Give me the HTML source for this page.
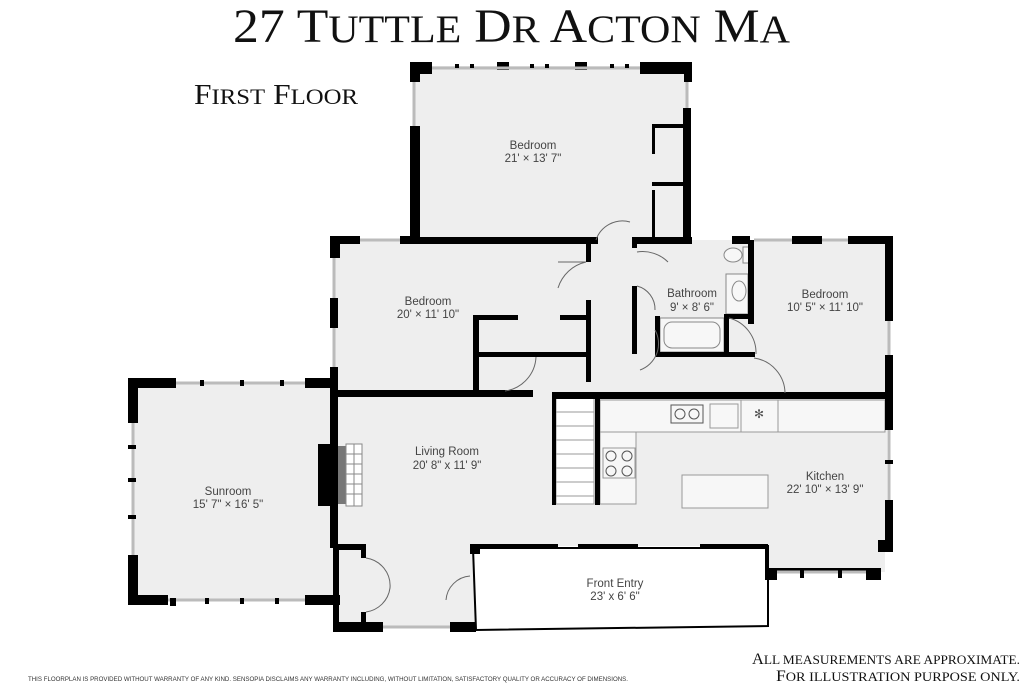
<!DOCTYPE html>
<html><head><meta charset="utf-8"><style>
html,body{margin:0;padding:0;background:#fff;width:1024px;height:683px;overflow:hidden}
svg{display:block}
.t{font-family:"Liberation Sans",sans-serif;font-size:11.5px;fill:#444;text-anchor:middle}
</style></head><body>
<svg width="1024" height="683" viewBox="0 0 1024 683" xmlns="http://www.w3.org/2000/svg">
<rect width="1024" height="683" fill="#fff"/>
<text x="233" y="42" font-family="Liberation Serif,serif" font-size="48" textLength="557" lengthAdjust="spacingAndGlyphs" fill="#111">27 T<tspan font-size="39">UTTLE</tspan> D<tspan font-size="39">R</tspan> A<tspan font-size="39">CTON</tspan> M<tspan font-size="39">A</tspan></text>
<text x="194" y="104" font-family="Liberation Serif,serif" font-size="28" textLength="164" lengthAdjust="spacingAndGlyphs" fill="#111">F<tspan font-size="22">IRST</tspan> F<tspan font-size="22">LOOR</tspan></text>

<g fill="#eeeeee">
<rect x="414" y="66" width="274" height="178"/>
<rect x="334" y="240" width="556" height="156"/>
<rect x="132" y="384" width="205" height="216"/>
<rect x="335" y="394" width="552" height="152"/>
<rect x="765" y="540" width="120" height="32"/>
<rect x="335" y="540" width="140" height="88"/>
</g>
<g fill="#f7f7f7" stroke="#999" stroke-width="1">
<rect x="600" y="400" width="285" height="32"/>
<rect x="600" y="432" width="36" height="72"/>
<rect x="682" y="475" width="86" height="33"/>
<rect x="710" y="404" width="28" height="24"/>
<rect x="741" y="400" width="37" height="32"/>
<rect x="603" y="448" width="32" height="30"/>
</g>
<g fill="none" stroke="#555" stroke-width="1">
<rect x="671" y="405" width="32" height="18"/>
<circle cx="680" cy="414" r="5"/><circle cx="694" cy="414" r="5"/>
<circle cx="611" cy="456" r="5"/><circle cx="627" cy="456" r="5"/>
<circle cx="611" cy="471" r="5"/><circle cx="627" cy="471" r="5"/>
</g>
<text x="759" y="418" font-size="12" text-anchor="middle" fill="#555">✻</text>
<g stroke="#999" stroke-width="1" fill="#fff">
<rect x="556" y="398" width="38" height="106"/>
<line x1="556" y1="412" x2="594" y2="412"/><line x1="556" y1="426" x2="594" y2="426"/>
<line x1="556" y1="440" x2="594" y2="440"/><line x1="556" y1="454" x2="594" y2="454"/>
<line x1="556" y1="468" x2="594" y2="468"/><line x1="556" y1="482" x2="594" y2="482"/>
<line x1="556" y1="496" x2="594" y2="496"/>
</g>
<g fill="#f7f7f7" stroke="#888" stroke-width="1">
<rect x="660" y="318" width="64" height="34"/>
<rect x="664" y="322" width="56" height="26" rx="8"/>
<rect x="726" y="274" width="22" height="40"/>
<ellipse cx="739" cy="291" rx="7" ry="10"/>
<ellipse cx="733" cy="255" rx="9" ry="7"/>
<rect x="743" y="247" width="6" height="16"/>
</g>
<rect x="318" y="444" width="20" height="62" fill="#000"/>
<polygon points="338,446 338,504 346,504 346,446" fill="#777"/>
<g stroke="#888" stroke-width="1" fill="#fff">
<rect x="346" y="444" width="16" height="62"/>
<line x1="354" y1="444" x2="354" y2="506"/>
<line x1="346" y1="454" x2="362" y2="454"/><line x1="346" y1="464" x2="362" y2="464"/>
<line x1="346" y1="474" x2="362" y2="474"/><line x1="346" y1="484" x2="362" y2="484"/>
<line x1="346" y1="494" x2="362" y2="494"/>
</g>
<polygon points="473,548 768,548 768,626 476,630" fill="#fff" stroke="#000" stroke-width="2"/>

<g fill="#000">
<rect x="410" y="62" width="22" height="12"/><rect x="640" y="62" width="52" height="12"/>
<rect x="410" y="62" width="10" height="20"/><rect x="684" y="62" width="8" height="20"/>
<rect x="497" y="62" width="12" height="8"/><rect x="575" y="62" width="12" height="8"/>
<rect x="410" y="126" width="10" height="118"/><rect x="683" y="108" width="8" height="136"/>
<rect x="414" y="237" width="184" height="7"/><rect x="632" y="237" width="60" height="7"/>
<rect x="652" y="124" width="34" height="4"/><rect x="652" y="182" width="34" height="4"/>
<rect x="652" y="124" width="3" height="30"/><rect x="652" y="190" width="3" height="50"/>
<rect x="330" y="236" width="10" height="22"/><rect x="330" y="236" width="30" height="8"/>
<rect x="400" y="236" width="20" height="8"/>
<rect x="330" y="298" width="8" height="30"/><rect x="330" y="367" width="8" height="30"/>
<rect x="586" y="240" width="5" height="22"/><rect x="586" y="300" width="5" height="82"/>
<rect x="473" y="315" width="6" height="80"/><rect x="473" y="315" width="45" height="5"/><rect x="560" y="315" width="30" height="5"/>
<rect x="473" y="352" width="118" height="5"/>
<rect x="330" y="390" width="203" height="7"/>
<rect x="632" y="240" width="5" height="8"/><rect x="632" y="286" width="5" height="68"/>
<rect x="655" y="316" width="5" height="40"/><rect x="655" y="352" width="100" height="5"/>
<rect x="724" y="314" width="30" height="5"/><rect x="724" y="314" width="5" height="42"/>
<rect x="748" y="240" width="6" height="84"/>
<rect x="732" y="236" width="18" height="8"/><rect x="792" y="236" width="30" height="8"/><rect x="848" y="236" width="45" height="8"/>
<rect x="885" y="236" width="8" height="85"/><rect x="885" y="355" width="8" height="75"/>
<rect x="552" y="392" width="341" height="7"/>
<rect x="595" y="397" width="5" height="108"/><rect x="552" y="393" width="4" height="112"/>
<rect x="885" y="500" width="8" height="45"/><rect x="878" y="540" width="15" height="12"/>
<rect x="866" y="568" width="15" height="12"/><rect x="765" y="568" width="12" height="12"/>
<rect x="765" y="545" width="4" height="35"/>
<rect x="771" y="568" width="110" height="4"/>
<rect x="470" y="544" width="10" height="10"/><rect x="480" y="544" width="78" height="5"/><rect x="578" y="544" width="60" height="5"/><rect x="700" y="544" width="68" height="5"/>
<rect x="333" y="544" width="32" height="6"/><rect x="333" y="544" width="6" height="88"/>
<rect x="361" y="544" width="5" height="14"/><rect x="361" y="612" width="5" height="20"/>
<rect x="333" y="622" width="50" height="10"/><rect x="450" y="622" width="26" height="10"/>
<rect x="128" y="378" width="48" height="10"/><rect x="128" y="378" width="10" height="45"/>
<rect x="305" y="378" width="32" height="10"/><rect x="330" y="378" width="8" height="170"/>
<rect x="128" y="555" width="10" height="48"/><rect x="128" y="595" width="40" height="10"/>
<rect x="305" y="595" width="35" height="10"/>
</g>
<g stroke="#bbb" stroke-width="3">
<line x1="432" y1="68" x2="640" y2="68"/><line x1="414" y1="82" x2="414" y2="126"/><line x1="687" y1="82" x2="687" y2="108"/>
<line x1="360" y1="240" x2="400" y2="240"/><line x1="334" y1="258" x2="334" y2="298"/><line x1="334" y1="328" x2="334" y2="367"/>
<line x1="176" y1="383" x2="305" y2="383"/><line x1="133" y1="423" x2="133" y2="555"/><line x1="168" y1="600" x2="305" y2="600"/>
<line x1="754" y1="240" x2="792" y2="240"/><line x1="822" y1="240" x2="848" y2="240"/><line x1="889" y1="321" x2="889" y2="355"/>
<line x1="889" y1="430" x2="889" y2="500"/><line x1="777" y1="572" x2="866" y2="572"/>
<line x1="383" y1="627" x2="450" y2="627"/>
</g>
<g fill="#000">
<rect x="455" y="64" width="4" height="4"/><rect x="470" y="64" width="4" height="4"/><rect x="530" y="64" width="4" height="4"/><rect x="545" y="64" width="4" height="4"/><rect x="610" y="64" width="4" height="4"/><rect x="625" y="64" width="4" height="4"/>
<rect x="160" y="380" width="4" height="6"/><rect x="200" y="380" width="4" height="6"/><rect x="240" y="380" width="4" height="6"/><rect x="280" y="380" width="4" height="6"/>
<rect x="128" y="445" width="8" height="4"/><rect x="128" y="478" width="8" height="4"/><rect x="128" y="515" width="8" height="4"/>
<rect x="170" y="598" width="6" height="8"/><rect x="205" y="598" width="4" height="6"/><rect x="240" y="598" width="4" height="6"/><rect x="275" y="598" width="4" height="6"/>
<rect x="885" y="460" width="8" height="4"/><rect x="800" y="570" width="4" height="8"/><rect x="838" y="570" width="4" height="8"/>
</g>
<g fill="none" stroke="#666" stroke-width="1">
<path d="M586 262 A38 38 0 0 0 558 288"/><line x1="558" y1="262" x2="586" y2="262"/>
<path d="M596 240 A28 28 0 0 1 630 222"/>
<path d="M637 252 A36 36 0 0 1 668 262"/>
<path d="M637 286 A24 24 0 0 1 655 310"/>
<path d="M655 330 A28 28 0 0 1 640 370"/>
<path d="M729 318 A36 36 0 0 1 756 354"/>
<path d="M754 358 A36 36 0 0 1 785 393"/>
<path d="M505 391 A36 36 0 0 0 536 357"/>
<path d="M366 558 A28 28 0 0 1 390 588 A28 28 0 0 1 366 612"/>
<path d="M470 576 A26 26 0 0 0 446 600"/>
</g>
<text class="t" x="533" y="149">Bedroom</text><text class="t" x="533" y="162">21' × 13' 7"</text>
<text class="t" x="428" y="305">Bedroom</text><text class="t" x="428" y="318">20' × 11' 10"</text>
<text class="t" x="692" y="297">Bathroom</text><text class="t" x="692" y="311">9' × 8' 6"</text>
<text class="t" x="825" y="298">Bedroom</text><text class="t" x="825" y="311">10' 5" × 11' 10"</text>
<text class="t" x="447" y="455">Living Room</text><text class="t" x="447" y="469">20' 8" x 11' 9"</text>
<text class="t" x="228" y="495">Sunroom</text><text class="t" x="228" y="508">15' 7" × 16' 5"</text>
<text class="t" x="825" y="480">Kitchen</text><text class="t" x="825" y="493">22' 10" × 13' 9"</text>
<text class="t" x="615" y="587">Front Entry</text><text class="t" x="615" y="600">23' x 6' 6"</text>
<text x="28" y="681" font-family="Liberation Sans,sans-serif" font-size="6.5" fill="#333" textLength="600" lengthAdjust="spacingAndGlyphs">THIS FLOORPLAN IS PROVIDED WITHOUT WARRANTY OF ANY KIND. SENSOPIA DISCLAIMS ANY WARRANTY INCLUDING, WITHOUT LIMITATION, SATISFACTORY QUALITY OR ACCURACY OF DIMENSIONS.</text>
<text x="752" y="664" font-family="Liberation Serif,serif" font-size="16" fill="#111" textLength="268" lengthAdjust="spacingAndGlyphs">A<tspan font-size="13">LL MEASUREMENTS ARE APPROXIMATE.</tspan></text>
<text x="776" y="681" font-family="Liberation Serif,serif" font-size="16" fill="#111" textLength="244" lengthAdjust="spacingAndGlyphs">F<tspan font-size="13">OR ILLUSTRATION PURPOSE ONLY.</tspan></text>
</svg>
</body></html>
